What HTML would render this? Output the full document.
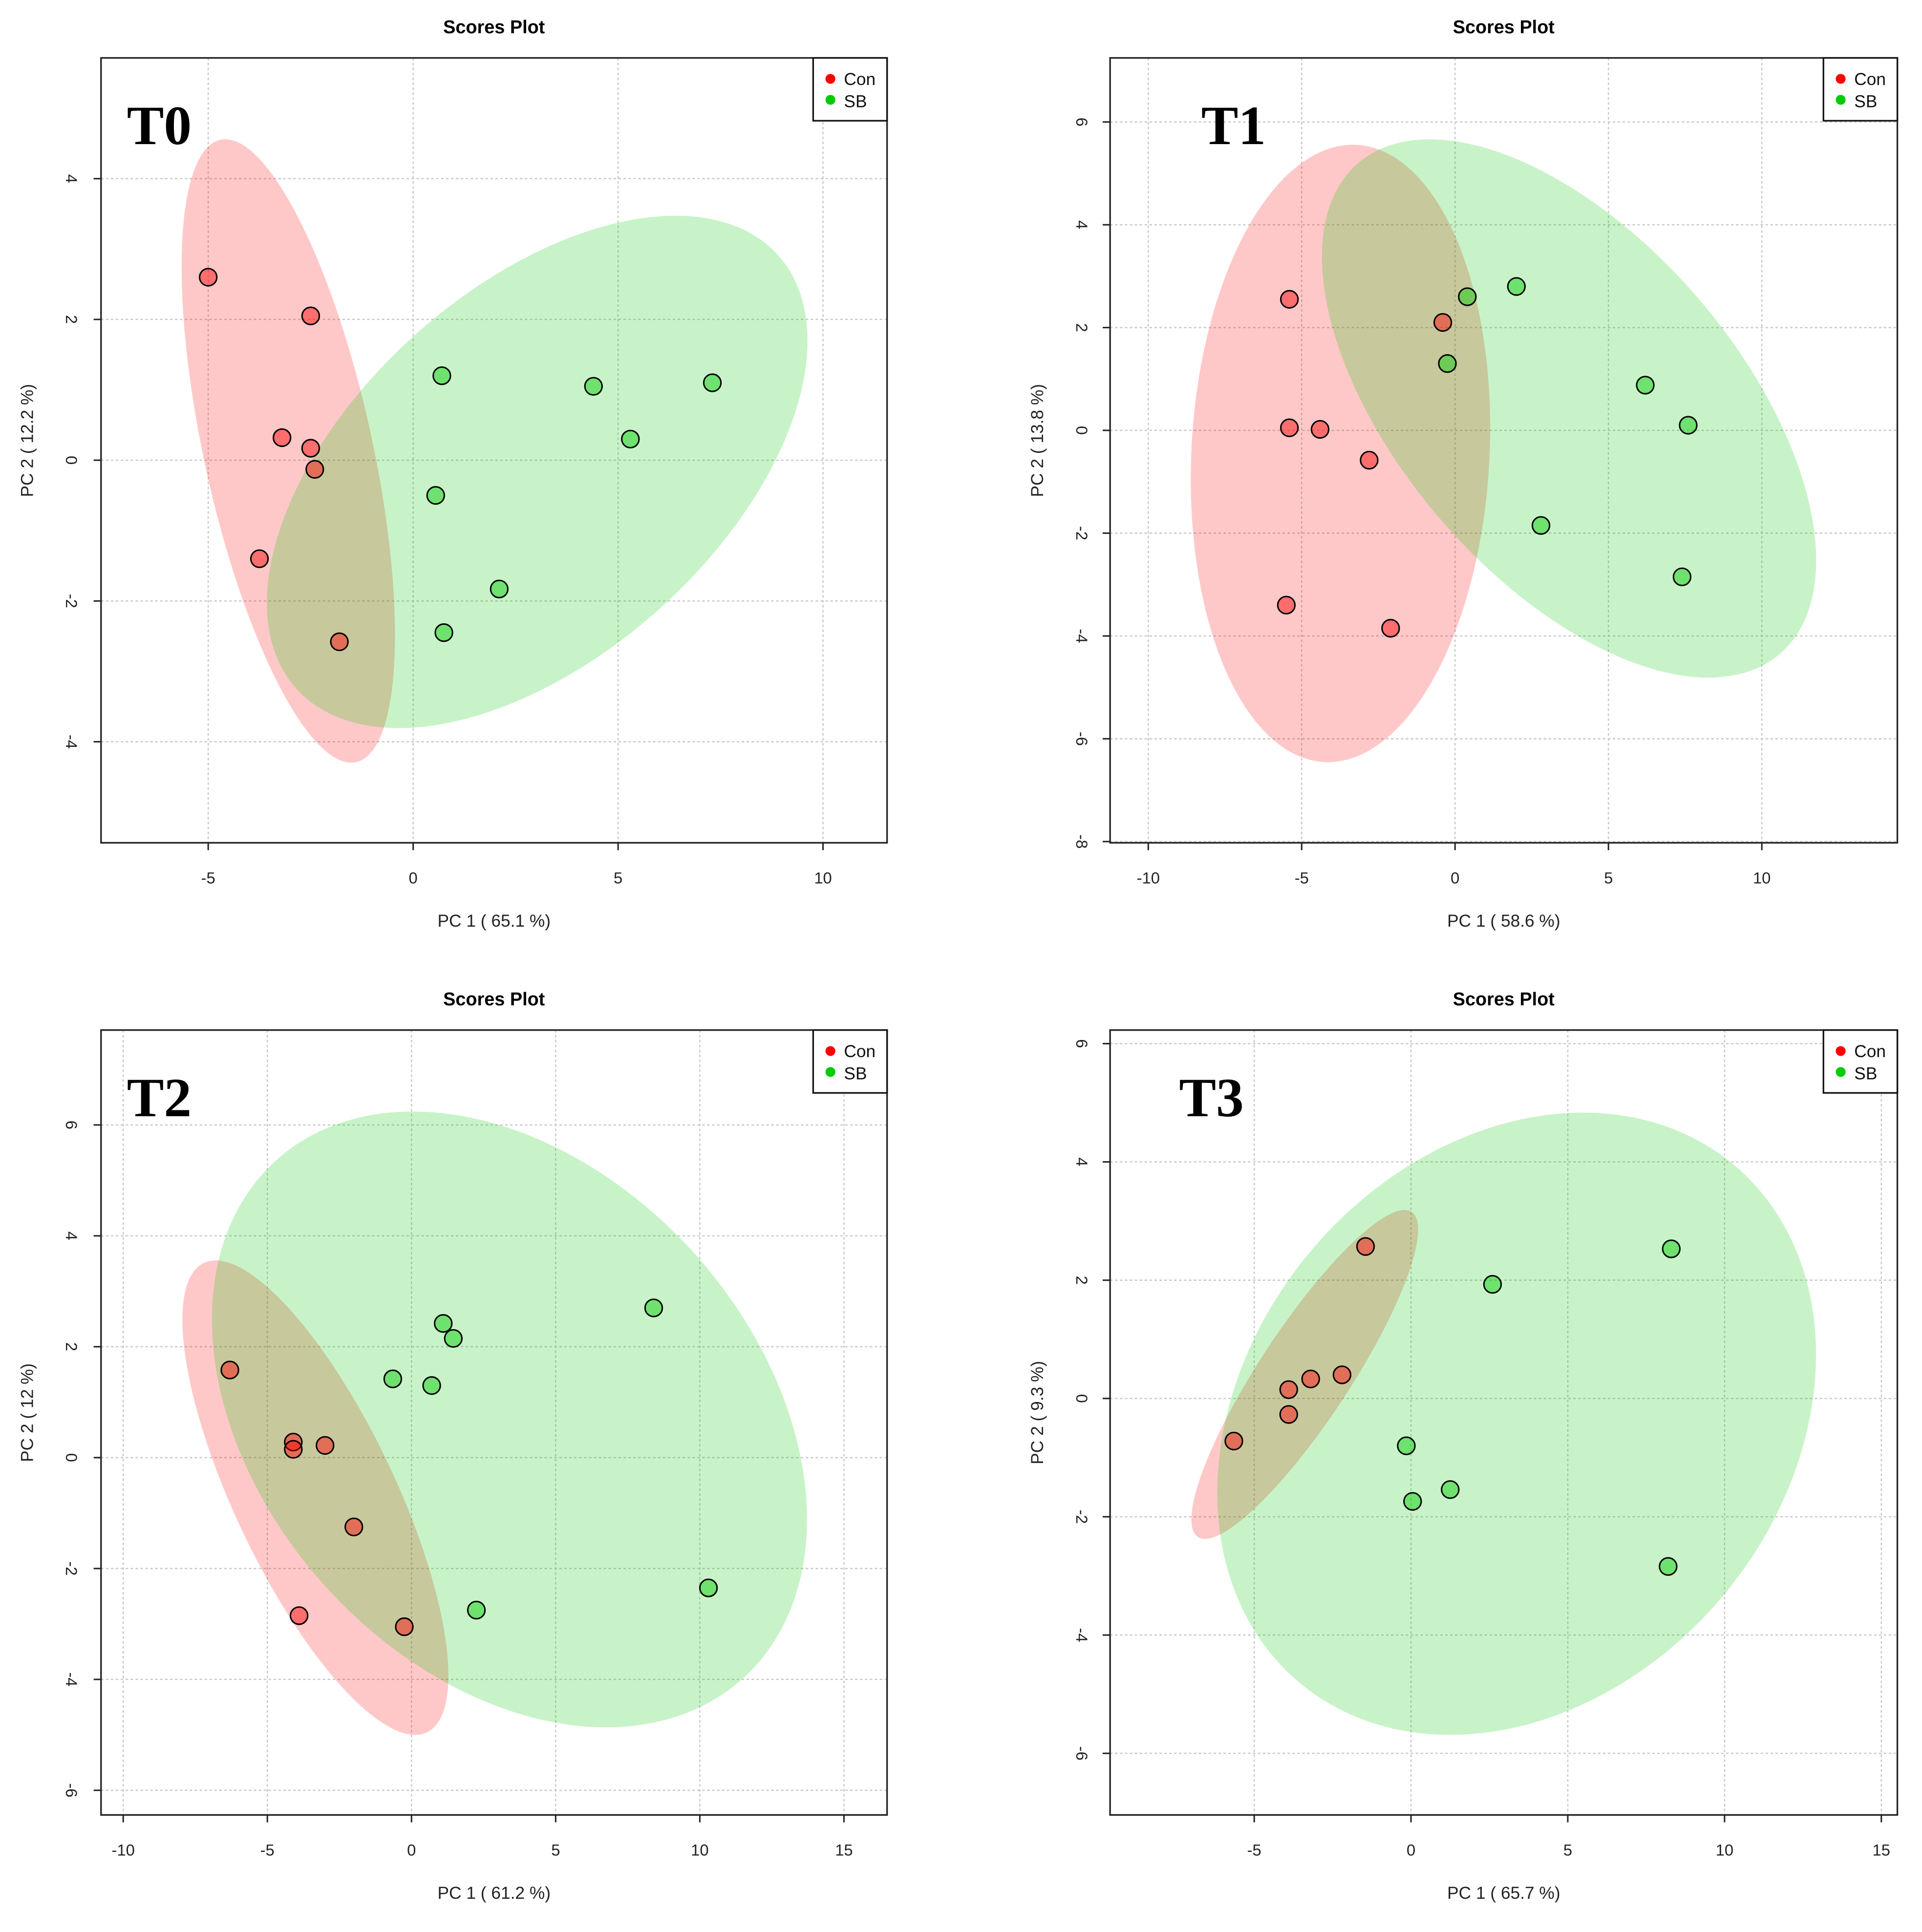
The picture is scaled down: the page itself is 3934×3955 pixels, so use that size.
<!DOCTYPE html>
<html><head><meta charset="utf-8">
<style>
html,body{margin:0;padding:0;background:#fff;}
svg{display:block;}
text{font-family:"Liberation Sans",sans-serif;}
</style></head>
<body>
<svg id="fig" xmlns="http://www.w3.org/2000/svg" width="3934" height="3955" viewBox="0 0 1560 1568" preserveAspectRatio="none"></svg>
<script>
// ---- data (PC1, PC2 scores) ----
const t0ConX = [-5.0, -2.5, -3.2, -2.5, -2.4, -3.75, -1.8];
const t0ConY = [2.6, 2.05, 0.32, 0.17, -0.13, -1.4, -2.58];
const t0SbX = [0.7, 4.4, 7.3, 5.3, 0.55, 2.1, 0.75];
const t0SbY = [1.2, 1.05, 1.1, 0.3, -0.5, -1.83, -2.45];

const t1ConX = [-5.4, -0.4, -5.4, -4.4, -2.8, -5.5, -2.1];
const t1ConY = [2.55, 2.1, 0.05, 0.02, -0.58, -3.4, -3.85];
const t1SbX = [0.4, 2.0, -0.25, 6.2, 7.6, 2.8, 7.4];
const t1SbY = [2.6, 2.8, 1.3, 0.88, 0.1, -1.85, -2.85];

const t2ConX = [-6.3, -4.1, -4.1, -3.0, -2.0, -3.9, -0.25];
const t2ConY = [1.58, 0.28, 0.15, 0.22, -1.25, -2.85, -3.05];
const t2SbX = [1.1, 1.45, -0.65, 0.7, 8.4, 10.3, 2.25];
const t2SbY = [2.42, 2.15, 1.42, 1.3, 2.7, -2.35, -2.75];

const t3ConX = [-1.45, -2.2, -3.2, -3.9, -3.9, -5.65];
const t3ConY = [2.57, 0.4, 0.33, 0.15, -0.27, -0.72];
const t3SbX = [8.3, 2.6, -0.15, 0.05, 1.25, 8.2];
const t3SbY = [2.53, 1.93, -0.8, -1.74, -1.54, -2.84];

const t0XTicks = [-5, 0, 5, 10];
const t0YTicks = [-4, -2, 0, 2, 4];
const t1XTicks = [-10, -5, 0, 5, 10];
const t1YTicks = [-8, -6, -4, -2, 0, 2, 4, 6];
const t2XTicks = [-10, -5, 0, 5, 10, 15];
const t2YTicks = [-6, -4, -2, 0, 2, 4, 6];
const t3XTicks = [-5, 0, 5, 10, 15];
const t3YTicks = [-6, -4, -2, 0, 2, 4, 6];

const panelTags = ["T0", "T1", "T2", "T3"];
const xLabels = ["PC 1 ( 65.1 %)", "PC 1 ( 58.6 %)", "PC 1 ( 61.2 %)", "PC 1 ( 65.7 %)"];
const yLabels = ["PC 2 ( 12.2 %)", "PC 2 ( 13.8 %)", "PC 2 ( 12 %)", "PC 2 ( 9.3 %)"];

// ---- layout ----
const NS = "http://www.w3.org/2000/svg";
const svg = document.getElementById("fig");
function mk(tag, attrs, parent) {
  const e = document.createElementNS(NS, tag);
  for (const k in attrs) e.setAttribute(k, attrs[k]);
  (parent || svg).appendChild(e);
  return e;
}
function lin(d0, d1, r0, r1) { return v => r0 + (v - d0) * (r1 - r0) / (d1 - d0); }

const panels = [
  {ox: 0, oy: 0, box: [82, 47, 720, 684], xs: lin(-5, 10, 169, 668), ys: lin(4, -4, 145, 602),
   cx: t0ConX, cy: t0ConY, sx: t0SbX, sy: t0SbY, xt: t0XTicks, yt: t0YTicks,
   ellR: [234, 366, 68.4, 258.5, -12.3], ellG: [436, 383, 263, 149, -42],
   tagX: 103, tagY: 117, leg: [660, 47], ylx: 23, tickYX: 57},
  {ox: 0, oy: 0, box: [901, 47, 1540, 684], xs: lin(-10, 10, 932, 1430), ys: lin(6, -8, 99, 683),
   cx: t1ConX, cy: t1ConY, sx: t1SbX, sy: t1SbY, xt: t1XTicks, yt: t1YTicks,
   ellR: [1088, 368, 121, 250.8, 3], ellG: [1273.5, 331.5, 262.6, 137.8, 49.3],
   tagX: 975, tagY: 117, leg: [1480, 47], ylx: 843, tickYX: 877},
  {ox: 0, oy: 0, box: [82, 836, 720, 1473], xs: lin(-10, 15, 100, 685), ys: lin(6, -6, 913, 1453),
   cx: t2ConX, cy: t2ConY, sx: t2SbX, sy: t2SbY, xt: t2XTicks, yt: t2YTicks,
   ellR: [256, 1215.5, 65.2, 210.9, -25.4], ellG: [413.5, 1152, 283, 201.7, 48],
   tagX: 103, tagY: 906, leg: [660, 836], ylx: 23, tickYX: 57},
  {ox: 0, oy: 0, box: [901, 836, 1540, 1473], xs: lin(-5, 15, 1018, 1527), ys: lin(6, -6, 847, 1423),
   cx: t3ConX, cy: t3ConY, sx: t3SbX, sy: t3SbY, xt: t3XTicks, yt: t3YTicks,
   ellR: [1059, 1115.5, 157.9, 36.9, -56.7], ellG: [1231, 1155.5, 274.3, 218.1, -49.9],
   tagX: 957, tagY: 906, leg: [1480, 836], ylx: 843, tickYX: 877}
];

panels.forEach((p, i) => {
  const [x0, y0, x1, y1] = p.box;
  const cxm = (x0 + x1) / 2;
  const g = mk("g", {});
  
  

  const title = mk("text", {x: cxm, y: y0 - 20, "text-anchor": "middle", "font-size": 15, "font-weight": "bold", fill: "#000"}, g);
  title.textContent = "Scores Plot";
  
  

  // grid
  p.xt.forEach(v => {
    const gl = mk("line", {x1: p.xs(v), x2: p.xs(v), y1: y0, y2: y1, stroke: "#c8c8c8", "stroke-width": 1, "stroke-dasharray": "2,2"}, g);
    
    
  });
  p.yt.forEach(v => {
    const gl = mk("line", {x1: x0, x2: x1, y1: p.ys(v), y2: p.ys(v), stroke: "#c8c8c8", "stroke-width": 1, "stroke-dasharray": "2,2"}, g);
    
    
  });

  // ellipses
  const eR = p.ellR, eG = p.ellG;
  const el1 = mk("ellipse", {cx: eR[0], cy: eR[1], rx: eR[2], ry: eR[3], transform: `rotate(${eR[4]} ${eR[0]} ${eR[1]})`, fill: "rgb(255,0,0)", "fill-opacity": 0.215}, g);
  
  
  const el2 = mk("ellipse", {cx: eG[0], cy: eG[1], rx: eG[2], ry: eG[3], transform: `rotate(${eG[4]} ${eG[0]} ${eG[1]})`, fill: "rgb(0,200,0)", "fill-opacity": 0.215}, g);
  
  

  // points
  p.cx.forEach((v, k) => {
    const c = mk("circle", {cx: p.xs(v), cy: p.ys(p.cy[k]), r: 7, fill: "rgb(255,0,0)", "fill-opacity": 0.45, stroke: "#000", "stroke-width": 1.2}, g);
    
    
  });
  p.sx.forEach((v, k) => {
    const c = mk("circle", {cx: p.xs(v), cy: p.ys(p.sy[k]), r: 7, fill: "rgb(0,205,0)", "fill-opacity": 0.45, stroke: "#000", "stroke-width": 1.2}, g);
    
    
  });

  // box
  const bx = mk("rect", {x: x0, y: y0, width: x1 - x0, height: y1 - y0, fill: "none", stroke: "#222", "stroke-width": 1.3}, g);
  
  

  // ticks
  p.xt.forEach(v => {
    const t = mk("line", {x1: p.xs(v), x2: p.xs(v), y1: y1, y2: y1 + 6, stroke: "#222", "stroke-width": 1.2}, g);
    
    
    const tl = mk("text", {x: p.xs(v), y: y1 + 33, "text-anchor": "middle", "font-size": 13, fill: "#222"}, g);
    tl.textContent = String(v);
    
    
  });
  p.yt.forEach(v => {
    const t = mk("line", {x1: x0 - 6, x2: x0, y1: p.ys(v), y2: p.ys(v), stroke: "#222", "stroke-width": 1.2}, g);
    
    
    const ty = p.ys(v);
    const tl = mk("text", {x: p.tickYX, y: ty, "text-anchor": "middle", "font-size": 13, fill: "#222", transform: `rotate(90 ${p.tickYX} ${ty})`, "dominant-baseline": "middle"}, g);
    tl.textContent = String(v);
    
    
  });

  // axis titles
  const xl = mk("text", {x: cxm, y: y1 + 68, "text-anchor": "middle", "font-size": 14, fill: "#222"}, g);
  xl.textContent = xLabels[i];
  
  
  const ym = (y0 + y1) / 2 - 8;
  const yl = mk("text", {x: p.ylx, y: ym, "text-anchor": "middle", "font-size": 14, fill: "#222", transform: `rotate(-90 ${p.ylx} ${ym})`, "dominant-baseline": "middle"}, g);
  yl.textContent = yLabels[i];
  
  

  // panel tag
  const tg = mk("text", {x: p.tagX, y: p.tagY, "font-size": 45, "font-weight": "bold", fill: "#000", style: "font-family:'Liberation Serif',serif"}, g);
  tg.textContent = panelTags[i];
  
  

  // legend
  const [lx, ly] = p.leg;
  const lg = mk("g", {}, g);
  
  
  mk("rect", {x: lx, y: ly, width: x1 - lx, height: 51, fill: "#fff", stroke: "#111", "stroke-width": 1.3}, lg);
  const e1 = mk("g", {}, lg);
  
  
  mk("circle", {cx: lx + 14, cy: ly + 17, r: 4, fill: "#f00"}, e1);
  const t1 = mk("text", {x: lx + 25, y: ly + 22, "font-size": 14, fill: "#111"}, e1);
  t1.textContent = "Con";
  const e2 = mk("g", {}, lg);
  
  
  mk("circle", {cx: lx + 14, cy: ly + 34, r: 4, fill: "#0c0"}, e2);
  const t2 = mk("text", {x: lx + 25, y: ly + 40, "font-size": 14, fill: "#111"}, e2);
  t2.textContent = "SB";
});
</script>
</body></html>
